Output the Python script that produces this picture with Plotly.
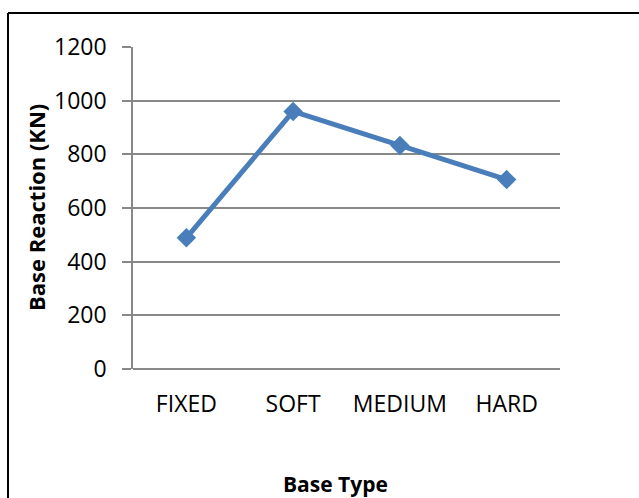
import plotly.graph_objects as go

# Base reaction for each base type
base_types = ["FIXED", "SOFT", "MEDIUM", "HARD"]
base_reaction = [489, 960, 833, 706]
y_ticks = [0, 200, 400, 600, 800, 1000, 1200]

W, H = 639, 498
L, R, T, B = 133, 79, 47, 129
pw, ph = W - L - R, H - T - B

def px_x(x):
    return (x - L) / pw

def px_y(y):
    return (H - B - y) / ph

FONT = "Open Sans"
GRID = "#888888"
BLUE = "#4A7EBB"

fig = go.Figure(
    go.Scatter(
        x=base_types,
        y=base_reaction,
        mode="lines+markers",
        line=dict(color=BLUE, width=5),
        marker=dict(symbol="diamond", size=15, color=BLUE),
        showlegend=False,
    )
)

fig.update_layout(
    width=W,
    height=H,
    margin=dict(l=L, r=R, t=T, b=B, autoexpand=False),
    paper_bgcolor="white",
    plot_bgcolor="white",
    font=dict(family=FONT, size=23, color="black"),
    xaxis=dict(
        type="category",
        range=[-0.5, 3.5],
        showgrid=False,
        showline=False,
        zeroline=False,
        ticks="",
        ticklabelstandoff=19,
        tickfont=dict(size=23),
    ),
    yaxis=dict(
        range=[0, 1200],
        tickvals=y_ticks,
        showgrid=True,
        gridcolor=GRID,
        gridwidth=1.5,
        showline=True,
        linecolor=GRID,
        linewidth=1.5,
        zeroline=True,
        zerolinecolor=GRID,
        zerolinewidth=1.5,
        ticks="outside",
        ticklen=9,
        tickwidth=1.5,
        tickcolor=GRID,
        ticklabelstandoff=11,
        tickfont=dict(size=23),
    ),
    shapes=[
        # chart frame (top and left edges)
        dict(type="line", xref="paper", yref="paper",
             x0=px_x(8), x1=px_x(W + 5), y0=px_y(13), y1=px_y(13),
             line=dict(color="black", width=2)),
        dict(type="line", xref="paper", yref="paper",
             x0=px_x(8), x1=px_x(8), y0=px_y(13), y1=px_y(H + 5),
             line=dict(color="black", width=2)),
    ],
    annotations=[
        dict(text="<b>Base Type</b>", xref="paper", yref="paper",
             x=px_x(335), y=px_y(484), xanchor="center", yanchor="middle",
             showarrow=False, font=dict(family=FONT, size=21)),
        dict(text="<b>Base Reaction (KN)</b>", xref="paper", yref="paper",
             x=px_x(36), y=px_y(208), xanchor="center", yanchor="middle",
             textangle=-90, showarrow=False, font=dict(family=FONT, size=22)),
    ],
)

fig.write_html("out.html")
